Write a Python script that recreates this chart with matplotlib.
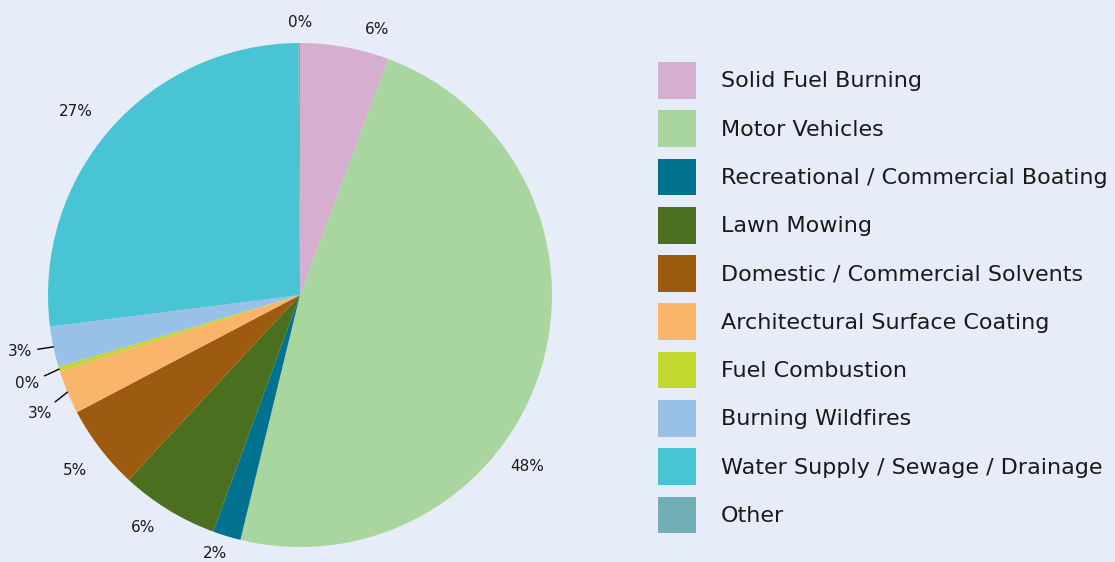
import matplotlib
matplotlib.use("Agg")
import matplotlib.pyplot as plt
import numpy as np

# Source shares (percent), clockwise from 12 o'clock.
categories = [
    "Solid Fuel Burning",
    "Motor Vehicles",
    "Recreational / Commercial Boating",
    "Lawn Mowing",
    "Domestic / Commercial Solvents",
    "Architectural Surface Coating",
    "Fuel Combustion",
    "Burning Wildfires",
    "Water Supply / Sewage / Drainage",
    "Other",
]
shares = [5.7, 48.1, 1.8, 6.3, 5.4, 2.8, 0.3, 2.6, 26.9, 0.1]
colors = ["#D5AED0", "#A9D59E", "#00728F", "#4A6F1E", "#9C5B0F",
          "#FBB56A", "#C2D82F", "#99C0E6", "#49C4D4", "#73AFB6"]

# label placement (pie-radius units), roughly as in the original layout
label_xy = [(0.306, 1.052), (0.901, -0.679), (-0.337, -1.025), (-0.623, -0.921),
            (-0.893, -0.698), (-1.032, -0.472), (-1.083, -0.353), (-1.111, -0.226),
            (-0.889, 0.730), (0.0, 1.083)]
leader = [False, False, False, False, False, True, True, True, False, False]

BG = "#E6ECF8"
W, H = 1115, 562
fig = plt.figure(figsize=(W / 100, H / 100), dpi=100, facecolor=BG)

cx, cy, r = 300, 267, 252  # centre / radius in pixels (from bottom)
ax = fig.add_axes([(cx - r) / W, (cy - r) / H, 2 * r / W, 2 * r / H])
ax.set_facecolor(BG)
ax.axis("off")

wedges, _ = ax.pie(shares, colors=colors, startangle=90, counterclock=False,
                   radius=1.0, wedgeprops=dict(linewidth=0))
ax.set_xlim(-1, 1)
ax.set_ylim(-1, 1)

for w, val, (tx, ty), lead in zip(wedges, shares, label_xy, leader):
    txt = f"{val:.0f}%"
    if lead:
        ang = np.deg2rad((w.theta1 + w.theta2) / 2)
        ax.annotate(txt, xy=(np.cos(ang), np.sin(ang)), xytext=(tx, ty),
                    ha="center", va="center", fontsize=11, color="#1a1a1a",
                    annotation_clip=False,
                    arrowprops=dict(arrowstyle="-", color="black", lw=1,
                                    shrinkA=2, shrinkB=0))
    else:
        ax.text(tx, ty, txt, ha="center", va="center", fontsize=11,
                color="#1a1a1a", clip_on=False)

fs = 16
px = fs * 100 / 72
leg = fig.legend(wedges, categories, loc="upper left",
                 bbox_to_anchor=(658 / W, 1 - 62 / H), frameon=False,
                 fontsize=fs, handlelength=38 / px,
                 handleheight=38 / px * 38 / 30, labelspacing=0.52,
                 handletextpad=1.13, borderpad=0, borderaxespad=0)
for t in leg.get_texts():
    t.set_color("#1a1a1a")

fig.savefig("out.png", dpi=100, facecolor=BG)
